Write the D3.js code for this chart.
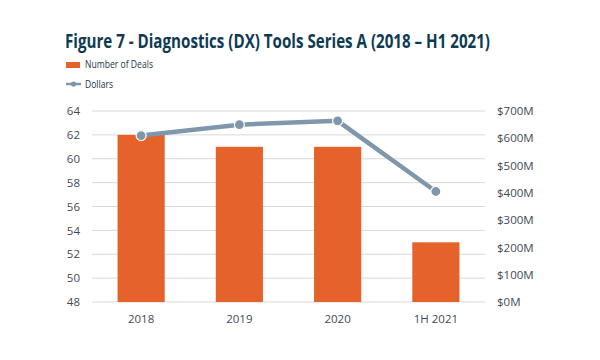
<!DOCTYPE html>
<html>
<head>
<meta charset="utf-8">
<script src="https://cdn.jsdelivr.net/npm/d3@7"></script>
<style>
  body { margin: 0; background: #fff; }
  text { font-family: "Open Sans", "DejaVu Sans", sans-serif; }
</style>
</head>
<body>
<div id="chart"></div>
<script>
// data
var periods = ["2018", "2019", "2020", "1H 2021"];
var deals = [62, 61, 61, 53];
var dollars = [610, 650, 664, 405]; // $M

var leftTicks = [48, 50, 52, 54, 56, 58, 60, 62, 64];
var rightTicks = [0, 100, 200, 300, 400, 500, 600, 700];

var svgWidth = 600;
var svgHeight = 360;

var margin = { top: 111, right: 115, bottom: 58, left: 92 };
var width = svgWidth - margin.left - margin.right;
var height = svgHeight - margin.top - margin.bottom;

var svg = d3.select("#chart")
    .append("svg")
    .attr("width", svgWidth)
    .attr("height", svgHeight);

// title (squeezed to mimic the condensed face)
svg.append("text")
    .attr("x", 65)
    .attr("y", 48)
    .attr("font-size", "19px")
    .attr("font-weight", "bold")
    .attr("textLength", 425)
    .attr("lengthAdjust", "spacingAndGlyphs")
    .attr("fill", "#0f3b52")
    .text("Figure 7 - Diagnostics (DX) Tools Series A (2018 \u2013 H1 2021)");

// legend
var legend = svg.append("g");
legend.append("rect")
    .attr("x", 66).attr("y", 62)
    .attr("width", 14).attr("height", 6)
    .attr("fill", "#e5622a");
legend.append("text")
    .attr("x", 85).attr("y", 68)
    .attr("font-size", "10px")
    .attr("textLength", 68)
    .attr("lengthAdjust", "spacingAndGlyphs")
    .attr("fill", "#1e3545")
    .text("Number of Deals");
legend.append("line")
    .attr("x1", 66).attr("x2", 81)
    .attr("y1", 84).attr("y2", 84)
    .attr("stroke", "#7f97aa").attr("stroke-width", 2.5);
legend.append("circle")
    .attr("cx", 73.5).attr("cy", 84).attr("r", 2.6)
    .attr("fill", "#7f97aa");
legend.append("text")
    .attr("x", 85).attr("y", 87.5)
    .attr("font-size", "10px")
    .attr("textLength", 28)
    .attr("lengthAdjust", "spacingAndGlyphs")
    .attr("fill", "#1e3545")
    .text("Dollars");

var chartGroup = svg.append("g")
    .attr("transform", `translate(${margin.left}, ${margin.top})`);

// scales
var xScale = d3.scaleBand()
    .domain(periods)
    .range([0, width])
    .paddingInner(0.52)
    .paddingOuter(0.26);

var yLeft = d3.scaleLinear().domain([48, 64]).range([height, 0]);
var yRight = d3.scaleLinear().domain([0, 700]).range([height, 0]);

// gridlines
chartGroup.selectAll(".grid")
    .data(leftTicks)
    .enter()
    .append("line")
    .attr("x1", 0).attr("x2", width)
    .attr("y1", d => yLeft(d)).attr("y2", d => yLeft(d))
    .attr("stroke", "#d9d9d9")
    .attr("stroke-width", 1);

// left axis
var leftAxis = d3.axisLeft(yLeft).tickValues(leftTicks).tickSize(0).tickPadding(12);
var la = chartGroup.append("g").call(leftAxis);
la.select(".domain").remove();
la.selectAll("text").attr("font-size", "11.5px").attr("fill", "#3f4a55");

// right axis
var rightAxis = d3.axisRight(yRight).tickValues(rightTicks).tickSize(0).tickPadding(12)
    .tickFormat(d => "$" + d + "M");
var ra = chartGroup.append("g").attr("transform", `translate(${width}, 0)`).call(rightAxis);
ra.select(".domain").remove();
ra.selectAll("text").attr("font-size", "11.5px").attr("fill", "#3f4a55");

// bottom axis
var bottomAxis = d3.axisBottom(xScale).tickSize(0).tickPadding(13);
var ba = chartGroup.append("g").attr("transform", `translate(0, ${height})`).call(bottomAxis);
ba.select(".domain").remove();
ba.selectAll("text").attr("font-size", "11.5px").attr("fill", "#3f4a55");

// bars
chartGroup.selectAll(".bar")
    .data(deals)
    .enter()
    .append("rect")
    .attr("x", (d, i) => xScale(periods[i]))
    .attr("y", d => yLeft(d))
    .attr("width", xScale.bandwidth())
    .attr("height", d => height - yLeft(d))
    .attr("fill", "#e5622a");

// line
var line = d3.line()
    .x((d, i) => xScale(periods[i]) + xScale.bandwidth() / 2)
    .y(d => yRight(d));

chartGroup.append("path")
    .datum(dollars)
    .attr("d", line)
    .attr("fill", "none")
    .attr("stroke", "#7f97aa")
    .attr("stroke-width", 4.5);

chartGroup.selectAll(".pt")
    .data(dollars)
    .enter()
    .append("circle")
    .attr("cx", (d, i) => xScale(periods[i]) + xScale.bandwidth() / 2)
    .attr("cy", d => yRight(d))
    .attr("r", 5)
    .attr("fill", "#7f97aa")
    .attr("stroke", "#fff")
    .attr("stroke-width", 1.2);
</script>
</body>
</html>
